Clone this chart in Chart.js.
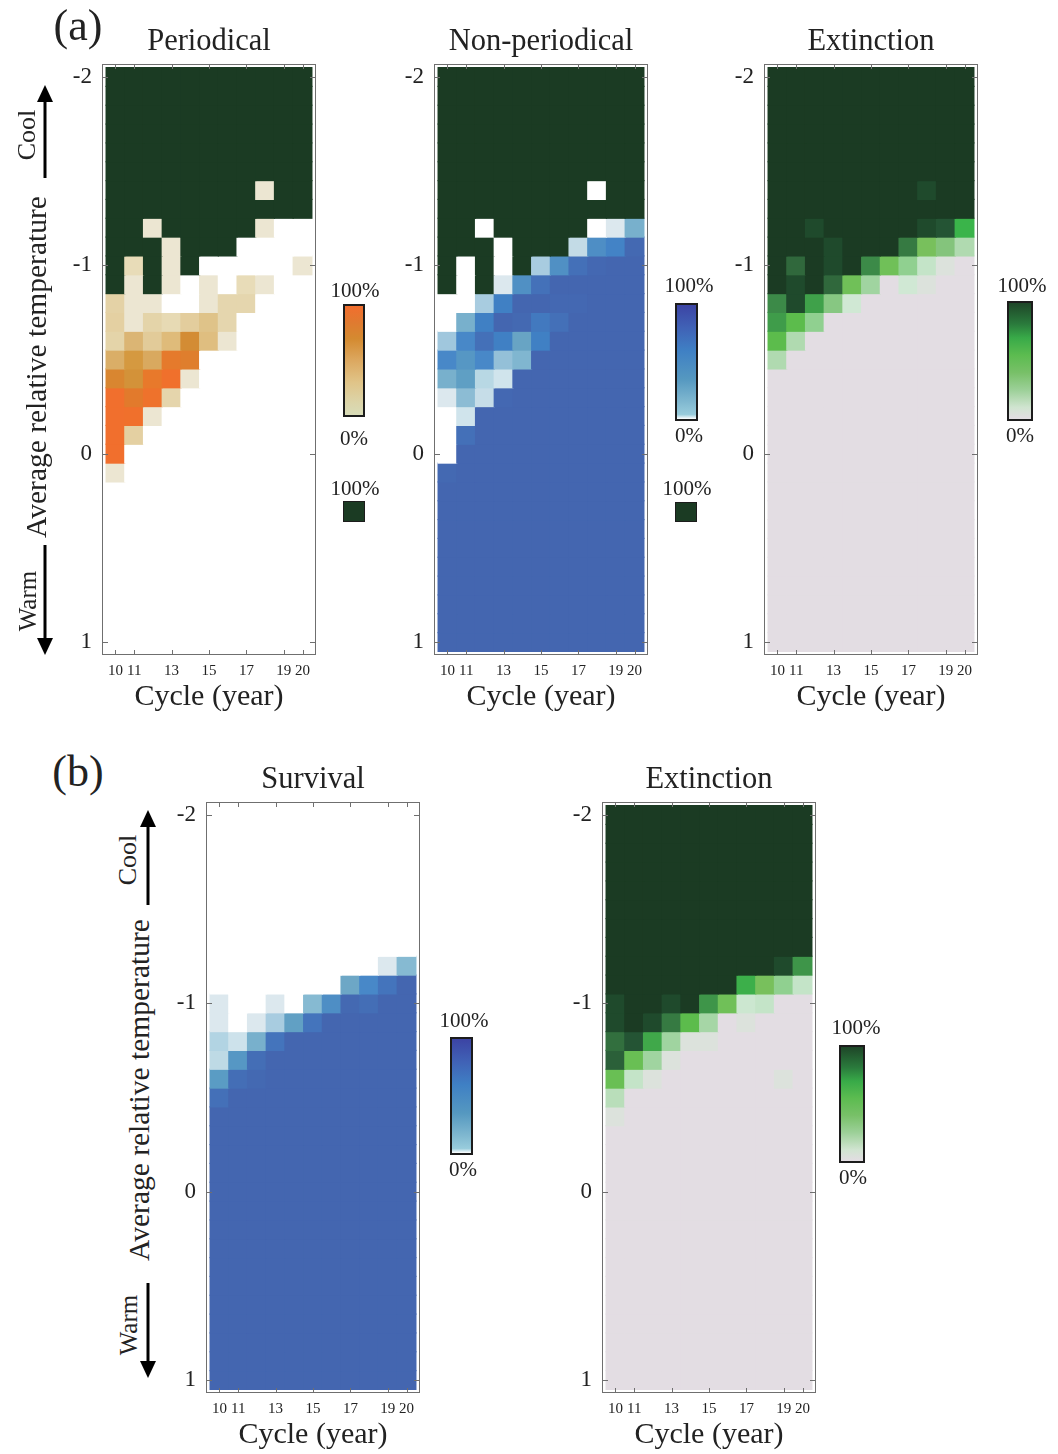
<!DOCTYPE html>
<html lang="en">
<head>
<meta charset="UTF-8">
<title>Cycle / temperature heatmaps</title>
<style>
  body { margin: 0; background: #fff; font-family: "Liberation Serif", "DejaVu Serif", serif; color: #222; }
  #page { position: relative; width: 1058px; height: 1454px; overflow: hidden; }
  .chartBox { position: absolute; }
  .txt { position: absolute; transform: translate(-50%, -50%); white-space: nowrap; line-height: 1; }
  .rot { transform: translate(-50%, -50%) rotate(-90deg); }
  .cbar { position: absolute; box-sizing: border-box; border: 2px solid #1c1c1c; }
  svg { position: absolute; left: 0; top: 0; }
</style>
<script src="https://cdn.jsdelivr.net/npm/chart.js"></script>
</head>
<body>
<div id="page">
  <div class="chartBox" id="boxA1"><canvas id="a1"></canvas></div>
  <div class="chartBox" id="boxA2"><canvas id="a2"></canvas></div>
  <div class="chartBox" id="boxA3"><canvas id="a3"></canvas></div>
  <div class="chartBox" id="boxB1"><canvas id="b1"></canvas></div>
  <div class="chartBox" id="boxB2"><canvas id="b2"></canvas></div>

  <!-- panel letters and y axis labels -->
  <div class="txt" style="left:78px;top:26px;font-size:44px">(a)</div>
  <div class="txt" style="left:78px;top:772px;font-size:44px">(b)</div>
  <div class="txt rot" style="left:37px;top:367px;font-size:29.5px">Average relative temperature</div>
  <div class="txt rot" style="left:27px;top:135px;font-size:26px">Cool</div>
  <div class="txt rot" style="left:27px;top:601px;font-size:25px">Warm</div>
  <div class="txt rot" style="left:140px;top:1090px;font-size:29.5px">Average relative temperature</div>
  <div class="txt rot" style="left:128px;top:860px;font-size:26px">Cool</div>
  <div class="txt rot" style="left:128px;top:1325px;font-size:25px">Warm</div>

  <svg width="1058" height="1454">
    <g stroke="#000" stroke-width="3" fill="#000">
      <line x1="45" y1="178" x2="45" y2="98"/>
      <polygon points="45,85 37,102 53,102" stroke="none"/>
      <line x1="45" y1="545" x2="45" y2="642"/>
      <polygon points="45,655 37,638 53,638" stroke="none"/>
      <line x1="148" y1="905" x2="148" y2="823"/>
      <polygon points="148,810 140,827 156,827" stroke="none"/>
      <line x1="148" y1="1283" x2="148" y2="1365"/>
      <polygon points="148,1378 140,1361 156,1361" stroke="none"/>
    </g>
  </svg>

  <!-- colour bars -->
  <div class="cbar" style="left:343px;top:304px;width:22px;height:113px;background:linear-gradient(#f26e2e,#e07a30 15%,#d48a30 30%,#dca860 50%,#e0c488 70%,#dcd4a8 88%,#d8dcb8)"></div>
  <div class="txt" style="left:355px;top:290px;font-size:21px">100%</div>
  <div class="txt" style="left:354px;top:438px;font-size:21px">0%</div>
  <div class="txt" style="left:355px;top:488px;font-size:21px">100%</div>
  <div class="cbar" style="left:343px;top:501px;width:22px;height:21px;border-width:1px;background:#1b3b23"></div>

  <div class="cbar" style="left:675px;top:303px;width:23px;height:118px;background:linear-gradient(#3c44a4,#4062b6 20%,#3f80c4 40%,#5598c0 65%,#80b8d0 85%,#98ccdc 96%,#ffffff)"></div>
  <div class="txt" style="left:689px;top:285px;font-size:21px">100%</div>
  <div class="txt" style="left:689px;top:435px;font-size:21px">0%</div>
  <div class="txt" style="left:687px;top:488px;font-size:21px">100%</div>
  <div class="cbar" style="left:675px;top:502px;width:22px;height:20px;border-width:1px;background:#1b3b23"></div>

  <div class="cbar" style="left:1007px;top:301px;width:26px;height:120px;background:linear-gradient(#1e4628,#2a7a3c 18%,#38aa48 30%,#5cbc50 45%,#78c068 60%,#9cd098 75%,#d0e4d0 90%,#e3dde3)"></div>
  <div class="txt" style="left:1022px;top:285px;font-size:21px">100%</div>
  <div class="txt" style="left:1020px;top:435px;font-size:21px">0%</div>

  <div class="cbar" style="left:450px;top:1037px;width:23px;height:118px;background:linear-gradient(#3c44a4,#4062b6 20%,#3f80c4 40%,#5598c0 65%,#80b8d0 85%,#98ccdc 96%,#ffffff)"></div>
  <div class="txt" style="left:464px;top:1020px;font-size:21px">100%</div>
  <div class="txt" style="left:463px;top:1169px;font-size:21px">0%</div>

  <div class="cbar" style="left:839px;top:1045px;width:26px;height:118px;background:linear-gradient(#1e4628,#2a7a3c 18%,#38aa48 30%,#5cbc50 45%,#78c068 60%,#9cd098 75%,#d0e4d0 90%,#e3dde3)"></div>
  <div class="txt" style="left:856px;top:1027px;font-size:21px">100%</div>
  <div class="txt" style="left:853px;top:1177px;font-size:21px">0%</div>
</div>

<script>
    // axes
    const cycles = [10, 11, 12, 13, 14, 15, 16, 17, 18, 19, 20];
    const cycleTicks = [10, 11, 13, 15, 17, 19, 20];
    const temps = [-2.0, -1.9, -1.8, -1.7, -1.6, -1.5, -1.4, -1.3, -1.2, -1.1,
                   -1.0, -0.9, -0.8, -0.7, -0.6, -0.5, -0.4, -0.3, -0.2, -0.1,
                    0.0,  0.1,  0.2,  0.3,  0.4,  0.5,  0.6,  0.7,  0.8,  0.9, 1.0];
    const tempTicks = [-2, -1, 0, 1];

    const X = null; // cell where every run went extinct (drawn dark green)

    // (a) share of periodical runs, % (rows = temps, cols = cycles)
    const periodical = [
        [X,X,X,X,X,X,X,X,X,X,X],
        [X,X,X,X,X,X,X,X,X,X,X],
        [X,X,X,X,X,X,X,X,X,X,X],
        [X,X,X,X,X,X,X,X,X,X,X],
        [X,X,X,X,X,X,X,X,X,X,X],
        [X,X,X,X,X,X,X,X,X,X,X],
        [X,X,X,X,X,X,X,X,5,X,X],
        [X,X,X,X,X,X,X,X,X,X,X],
        [X,X,5,X,X,X,X,X,5,0,0],
        [X,X,X,5,X,X,X,0,0,0,0],
        [X,10,X,5,X,0,0,0,0,0,5],
        [X,5,X,5,0,5,0,10,5,0,0],
        [20,5,5,0,0,5,15,15,0,0,0],
        [22,5,18,12,25,35,15,0,0,0,0],
        [18,45,28,40,66,38,5,0,0,0,0],
        [48,60,50,80,74,0,0,0,0,0,0],
        [70,63,85,95,5,0,0,0,0,0,0],
        [98,76,93,16,0,0,0,0,0,0,0],
        [98,95,5,0,0,0,0,0,0,0,0],
        [98,22,0,0,0,0,0,0,0,0,0],
        [98,0,0,0,0,0,0,0,0,0,0],
        [5,0,0,0,0,0,0,0,0,0,0],
        [0,0,0,0,0,0,0,0,0,0,0],
        [0,0,0,0,0,0,0,0,0,0,0],
        [0,0,0,0,0,0,0,0,0,0,0],
        [0,0,0,0,0,0,0,0,0,0,0],
        [0,0,0,0,0,0,0,0,0,0,0],
        [0,0,0,0,0,0,0,0,0,0,0],
        [0,0,0,0,0,0,0,0,0,0,0],
        [0,0,0,0,0,0,0,0,0,0,0],
        [0,0,0,0,0,0,0,0,0,0,0]
    ];

    // (a) share of non-periodical runs, %
    const nonPeriodical = [
        [X,X,X,X,X,X,X,X,X,X,X],
        [X,X,X,X,X,X,X,X,X,X,X],
        [X,X,X,X,X,X,X,X,X,X,X],
        [X,X,X,X,X,X,X,X,X,X,X],
        [X,X,X,X,X,X,X,X,X,X,X],
        [X,X,X,X,X,X,X,X,X,X,X],
        [X,X,X,X,X,X,X,X,0,X,X],
        [X,X,X,X,X,X,X,X,X,X,X],
        [X,X,0,X,X,X,X,X,0,8,45],
        [X,X,X,0,X,X,X,18,65,75,97],
        [X,0,X,0,X,30,63,90,98,100,100],
        [X,0,X,8,63,88,100,100,100,100,100],
        [0,0,30,78,100,100,98,98,100,100,100],
        [0,45,78,100,97,82,90,100,100,100,100],
        [32,70,90,78,52,78,100,100,100,100,100],
        [70,60,70,35,42,100,100,100,100,100,100],
        [45,56,22,14,100,100,100,100,100,100,100],
        [8,38,17,98,100,100,100,100,100,100,100],
        [0,14,100,100,100,100,100,100,100,100,100],
        [0,90,100,100,100,100,100,100,100,100,100],
        [0,100,100,100,100,100,100,100,100,100,100],
        [97,100,100,100,100,100,100,100,100,100,100],
        [100,100,100,100,100,100,100,100,100,100,100],
        [100,100,100,100,100,100,100,100,100,100,100],
        [100,100,100,100,100,100,100,100,100,100,100],
        [100,100,100,100,100,100,100,100,100,100,100],
        [100,100,100,100,100,100,100,100,100,100,100],
        [100,100,100,100,100,100,100,100,100,100,100],
        [100,100,100,100,100,100,100,100,100,100,100],
        [100,100,100,100,100,100,100,100,100,100,100],
        [100,100,100,100,100,100,100,100,100,100,100]
    ];

    // (a) share of extinct runs, %
    const extinctionA = [
        [100,100,100,100,100,100,100,100,100,100,100],
        [100,100,100,100,100,100,100,100,100,100,100],
        [100,100,100,100,100,100,100,100,100,100,100],
        [100,100,100,100,100,100,100,100,100,100,100],
        [100,100,100,100,100,100,100,100,100,100,100],
        [100,100,100,100,100,100,100,100,100,100,100],
        [100,100,100,100,100,100,100,100,95,100,100],
        [100,100,100,100,100,100,100,100,100,100,100],
        [100,100,95,100,100,100,100,100,95,90,60],
        [100,100,100,95,100,100,100,80,45,40,20],
        [100,85,100,95,100,75,50,33,13,5,0],
        [100,95,100,85,50,28,0,10,5,0,0],
        [75,95,68,38,10,0,0,0,0,0,0],
        [70,56,33,0,0,0,0,0,0,0,0],
        [56,20,0,0,0,0,0,0,0,0,0],
        [20,0,0,0,0,0,0,0,0,0,0],
        [0,0,0,0,0,0,0,0,0,0,0],
        [0,0,0,0,0,0,0,0,0,0,0],
        [0,0,0,0,0,0,0,0,0,0,0],
        [0,0,0,0,0,0,0,0,0,0,0],
        [0,0,0,0,0,0,0,0,0,0,0],
        [0,0,0,0,0,0,0,0,0,0,0],
        [0,0,0,0,0,0,0,0,0,0,0],
        [0,0,0,0,0,0,0,0,0,0,0],
        [0,0,0,0,0,0,0,0,0,0,0],
        [0,0,0,0,0,0,0,0,0,0,0],
        [0,0,0,0,0,0,0,0,0,0,0],
        [0,0,0,0,0,0,0,0,0,0,0],
        [0,0,0,0,0,0,0,0,0,0,0],
        [0,0,0,0,0,0,0,0,0,0,0],
        [0,0,0,0,0,0,0,0,0,0,0]
    ];

    // (b) share of surviving runs, %
    const survivalB = [
        [0,0,0,0,0,0,0,0,0,0,0],
        [0,0,0,0,0,0,0,0,0,0,0],
        [0,0,0,0,0,0,0,0,0,0,0],
        [0,0,0,0,0,0,0,0,0,0,0],
        [0,0,0,0,0,0,0,0,0,0,0],
        [0,0,0,0,0,0,0,0,0,0,0],
        [0,0,0,0,0,0,0,0,0,0,0],
        [0,0,0,0,0,0,0,0,0,0,0],
        [0,0,0,0,0,0,0,0,0,8,40],
        [0,0,0,0,0,0,0,50,70,85,100],
        [8,0,0,8,0,40,65,97,92,100,100],
        [8,0,8,30,55,85,100,100,100,100,100],
        [25,15,45,85,100,100,100,100,100,100,100],
        [20,60,92,100,100,100,100,100,100,100,100],
        [58,92,97,100,100,100,100,100,100,100,100],
        [90,100,100,100,100,100,100,100,100,100,100],
        [100,100,100,100,100,100,100,100,100,100,100],
        [100,100,100,100,100,100,100,100,100,100,100],
        [100,100,100,100,100,100,100,100,100,100,100],
        [100,100,100,100,100,100,100,100,100,100,100],
        [100,100,100,100,100,100,100,100,100,100,100],
        [100,100,100,100,100,100,100,100,100,100,100],
        [100,100,100,100,100,100,100,100,100,100,100],
        [100,100,100,100,100,100,100,100,100,100,100],
        [100,100,100,100,100,100,100,100,100,100,100],
        [100,100,100,100,100,100,100,100,100,100,100],
        [100,100,100,100,100,100,100,100,100,100,100],
        [100,100,100,100,100,100,100,100,100,100,100],
        [100,100,100,100,100,100,100,100,100,100,100],
        [100,100,100,100,100,100,100,100,100,100,100],
        [100,100,100,100,100,100,100,100,100,100,100]
    ];

    // (b) share of extinct runs, %
    const extinctionB = [
        [100,100,100,100,100,100,100,100,100,100,100],
        [100,100,100,100,100,100,100,100,100,100,100],
        [100,100,100,100,100,100,100,100,100,100,100],
        [100,100,100,100,100,100,100,100,100,100,100],
        [100,100,100,100,100,100,100,100,100,100,100],
        [100,100,100,100,100,100,100,100,100,100,100],
        [100,100,100,100,100,100,100,100,100,100,100],
        [100,100,100,100,100,100,100,100,100,100,100],
        [100,100,100,100,100,100,100,100,100,95,72],
        [100,100,100,100,100,100,100,62,45,33,13],
        [95,100,100,95,100,72,50,11,13,0,0],
        [95,100,95,80,56,25,0,5,0,0,0],
        [83,90,65,28,5,5,0,0,0,0,0],
        [87,52,28,5,0,0,0,0,0,0,0],
        [52,13,5,0,0,0,0,0,0,5,0],
        [17,0,0,0,0,0,0,0,0,0,0],
        [5,0,0,0,0,0,0,0,0,0,0],
        [0,0,0,0,0,0,0,0,0,0,0],
        [0,0,0,0,0,0,0,0,0,0,0],
        [0,0,0,0,0,0,0,0,0,0,0],
        [0,0,0,0,0,0,0,0,0,0,0],
        [0,0,0,0,0,0,0,0,0,0,0],
        [0,0,0,0,0,0,0,0,0,0,0],
        [0,0,0,0,0,0,0,0,0,0,0],
        [0,0,0,0,0,0,0,0,0,0,0],
        [0,0,0,0,0,0,0,0,0,0,0],
        [0,0,0,0,0,0,0,0,0,0,0],
        [0,0,0,0,0,0,0,0,0,0,0],
        [0,0,0,0,0,0,0,0,0,0,0],
        [0,0,0,0,0,0,0,0,0,0,0],
        [0,0,0,0,0,0,0,0,0,0,0]
    ];

    // colour maps (percent -> colour)
    const EXTINCT = '#1b3b23';
    const orangeStops = [[0,'#ffffff'],[1,'#eeeadb'],[5,'#ece6d2'],[10,'#e8dcb8'],[15,'#e5d6ae'],[20,'#e4d2a6'],
        [25,'#e3cd9d'],[30,'#e2c996'],[35,'#dfc389'],[40,'#dfbb7a'],[45,'#dbb574'],[50,'#d9a95f'],[60,'#d59940'],
        [65,'#d28d35'],[70,'#d98630'],[76,'#e27a2c'],[85,'#e8792b'],[95,'#f0702c'],[100,'#f26e2e']];
    const blueStops = [[0,'#ffffff'],[1,'#e6eef2'],[8,'#dce8ee'],[14,'#d0e4ec'],[18,'#c3dbe6'],[22,'#b8d8e4'],
        [30,'#a8cce0'],[35,'#94c0d8'],[40,'#86bad2'],[45,'#78b0cc'],[52,'#68a4c4'],[58,'#5a9cc4'],[63,'#5090c4'],
        [70,'#4888c8'],[78,'#4080c4'],[85,'#4474bc'],[92,'#446eb6'],[100,'#4466b0']];
    const greenStops = [[0,'#e3dde3'],[5,'#dce2dc'],[10,'#d0e8d4'],[13,'#c4e4c8'],[20,'#b0dab0'],[28,'#a0d4a0'],
        [33,'#90d090'],[40,'#84c47c'],[45,'#78c05c'],[50,'#70c058'],[56,'#5cbc4c'],[60,'#3ab44a'],[65,'#40a84a'],
        [70,'#3f9c4a'],[75,'#3c8a48'],[80,'#367a42'],[85,'#30683c'],[90,'#245434'],[95,'#1f4a2c'],[100,'#1b3b23']];

    function hexToRgb(h) {
        return [parseInt(h.slice(1, 3), 16), parseInt(h.slice(3, 5), 16), parseInt(h.slice(5, 7), 16)];
    }

    function colorMap(stops) {
        return function (v) {
            if (v === null) return EXTINCT;
            for (let i = 1; i < stops.length; i++) {
                if (v <= stops[i][0]) {
                    const [v0, c0] = stops[i - 1];
                    const [v1, c1] = stops[i];
                    const t = (v - v0) / (v1 - v0);
                    const a = hexToRgb(c0), b = hexToRgb(c1);
                    const m = a.map((x, k) => Math.round(x + (b[k] - x) * t));
                    return 'rgb(' + m.join(',') + ')';
                }
            }
            return stops[stops.length - 1][1];
        };
    }

    // frame with inward ticks on all four sides, plus the panel title
    const framePlugin = {
        id: 'panelFrame',
        afterDatasetsDraw(chart, args, opts) {
            const { ctx, chartArea: a } = chart;
            const x = chart.scales.x, y = chart.scales.y;
            ctx.save();
            ctx.strokeStyle = '#6f6f6f';
            ctx.lineWidth = 1;
            ctx.strokeRect(Math.round(a.left) + 0.5, Math.round(a.top) + 0.5,
                           Math.round(a.width) - 1, Math.round(a.height) - 1);
            ctx.beginPath();
            cycleTicks.forEach(v => {
                const px = Math.round(x.getPixelForValue(v)) + 0.5;
                ctx.moveTo(px, a.top); ctx.lineTo(px, a.top + 5);
                ctx.moveTo(px, a.bottom); ctx.lineTo(px, a.bottom - 5);
            });
            tempTicks.forEach(v => {
                const py = Math.round(y.getPixelForValue(v)) + 0.5;
                ctx.moveTo(a.left, py); ctx.lineTo(a.left + 6, py);
                ctx.moveTo(a.right, py); ctx.lineTo(a.right - 6, py);
            });
            ctx.stroke();
            ctx.fillStyle = '#222';
            ctx.font = '30.5px "Liberation Serif"';
            ctx.textAlign = 'center';
            ctx.textBaseline = 'middle';
            ctx.fillText(opts.title, (a.left + a.right) / 2, a.top - 22);
            ctx.restore();
        }
    };

    const FRAME_W = 214, FRAME_H = 591, PAD_L = 50, PAD_T = 50, PAD_R = 14, AXIS_H = 60;

    function heatmap(id, title, frameLeft, frameTop, rows, colorOf) {
        const box = document.getElementById('box' + id.toUpperCase());
        const w = PAD_L + FRAME_W + PAD_R, h = PAD_T + FRAME_H + AXIS_H;
        box.style.left = (frameLeft - PAD_L) + 'px';
        box.style.top = (frameTop - PAD_T) + 'px';
        const canvas = document.getElementById(id);
        canvas.width = w; canvas.height = h;
        canvas.style.width = w + 'px'; canvas.style.height = h + 'px';

        const datasets = rows.map((row, r) => ({
            data: cycles.map(c => ({ x: c, y: [temps[r] - 0.05, temps[r] + 0.05] })),
            backgroundColor: row.map(colorOf),
            grouped: false,
            barPercentage: 1,
            categoryPercentage: 1,
            borderWidth: 0,
            inflateAmount: 0.6
        }));

        const serif = 'Liberation Serif';
        new Chart(canvas, {
            type: 'bar',
            data: { datasets: datasets },
            options: {
                responsive: false,
                animation: false,
                events: [],
                layout: { padding: { top: PAD_T, right: PAD_R, left: 0, bottom: 0 } },
                plugins: {
                    legend: { display: false },
                    tooltip: { enabled: false },
                    panelFrame: { title: title }
                },
                scales: {
                    x: {
                        type: 'linear',
                        offset: false,
                        min: 9.28,
                        max: 20.72,
                        grid: { display: false, drawTicks: false, offset: false },
                        border: { display: false },
                        afterBuildTicks: s => { s.ticks = cycleTicks.map(v => ({ value: v })); },
                        afterFit: s => { s.height = AXIS_H; },
                        ticks: { autoSkip: false, maxRotation: 0, padding: 7, color: '#222',
                                 font: { family: serif, size: 15 } },
                        title: { display: true, text: 'Cycle (year)', padding: 0, color: '#222',
                                 font: { family: serif, size: 30 } }
                    },
                    y: {
                        type: 'linear',
                        reverse: true,
                        min: -2.069,
                        max: 1.069,
                        grid: { display: false, drawTicks: false },
                        border: { display: false },
                        afterBuildTicks: s => { s.ticks = tempTicks.map(v => ({ value: v })); },
                        afterFit: s => { s.width = PAD_L; },
                        ticks: { padding: 10, color: '#222', font: { family: serif, size: 23 } }
                    }
                }
            },
            plugins: [framePlugin]
        });
    }

    heatmap('a1', 'Periodical', 102, 64, periodical, colorMap(orangeStops));
    heatmap('a2', 'Non-periodical', 434, 64, nonPeriodical, colorMap(blueStops));
    heatmap('a3', 'Extinction', 764, 64, extinctionA, colorMap(greenStops));
    heatmap('b1', 'Survival', 206, 802, survivalB, colorMap(blueStops));
    heatmap('b2', 'Extinction', 602, 802, extinctionB, colorMap(greenStops));
</script>
</body>
</html>
